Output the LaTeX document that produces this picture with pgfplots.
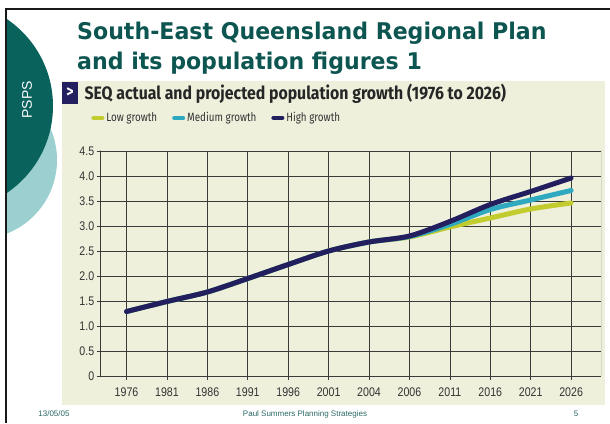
\documentclass[border=0pt]{standalone}
\usepackage{fontspec}
\setmainfont{Liberation Sans}
\newfontfamily\headfont{DejaVu Sans}
\newfontfamily\condfont[FakeStretch=0.82]{Fira Sans}
\newfontfamily\titlefont[FakeStretch=0.88]{Fira Sans}
\newfontfamily\narrowfont[FakeStretch=0.85]{Liberation Sans}
\usepackage{graphicx}
\usepackage{pgfplots}
\pgfplotsset{compat=1.18}

\definecolor{darkteal}{HTML}{0A625D}
\definecolor{lightteal}{HTML}{9CCFCF}
\definecolor{titlec}{HTML}{0D5550}
\definecolor{chartbg}{HTML}{EEF0DC}
\definecolor{navy}{HTML}{241F5E}
\definecolor{lowc}{HTML}{C3CC2E}
\definecolor{medc}{HTML}{2FA9BF}
\definecolor{highc}{HTML}{231E5E}
\definecolor{gridc}{HTML}{3A3A3A}
\definecolor{labelc}{HTML}{333333}
\definecolor{footc}{HTML}{2A6A66}

\begin{document}
\begin{tikzpicture}
\useasboundingbox (0,0) rectangle (610pt,423pt);
\fill[white] (0,0) rectangle (610pt,423pt);

% slide decoration
\begin{scope}
  \clip (6pt,0) rectangle (610pt,414pt);
  \fill[lightteal] (-22pt,263pt) circle (79pt);
  \fill[darkteal] (-52pt,317pt) circle (105pt);
\end{scope}
\draw[black!90, line width=2pt] (6pt,0) -- (6pt,414pt) -- (610pt,414pt);
\node[rotate=90, text=white, font=\fontsize{14}{14}\selectfont] at (27pt,323pt) {PSPS};

\node[anchor=base west, inner sep=0pt, text=titlec, font=\headfont\bfseries\fontsize{23}{26}\selectfont]
  at (77pt,383.7pt) {\scalebox{0.96}[1]{South-East Queensland Regional Plan}};
\node[anchor=base west, inner sep=0pt, text=titlec, font=\headfont\bfseries\fontsize{23}{26}\selectfont]
  at (77pt,353.7pt) {\scalebox{0.96}[1]{and its population figures 1}};

% chart panel
\fill[chartbg] (62pt,18pt) rectangle (605pt,342pt);
\fill[navy] (62pt,319pt) rectangle (78pt,341pt);
\node[text=white, font=\condfont\bfseries\fontsize{17}{17}\selectfont] at (70pt,330pt) {\textgreater};
\node[anchor=base west, text=black!85, font=\titlefont\bfseries\fontsize{18}{20}\selectfont]
  at (81pt,323pt) {SEQ actual and projected population growth (1976 to 2026)};

% footer
\node[text=footc, font=\fontsize{8}{10}\selectfont] at (54pt,9pt) {13/05/05};
\node[text=footc, font=\fontsize{8}{10}\selectfont] at (305pt,9pt) {Paul Summers Planning Strategies};
\node[text=footc, font=\fontsize{8}{10}\selectfont] at (576pt,9pt) {5};

\begin{axis}[
  at={(100.7pt,47pt)}, anchor=south west,
  scale only axis, width=500.3pt, height=225pt,
  xmin=-0.64, xmax=11.74, ymin=0, ymax=4.5,
  axis x line*=bottom, axis y line*=left,
  axis line style={draw=gridc, line width=0.8pt, -},
  xtick={0,...,11},
  xticklabels={1976,1981,1986,1991,1996,2001,2004,2006,2011,2016,2021,2026},
  ytick={0,0.5,1,1.5,2,2.5,3,3.5,4,4.5},
  yticklabels={0,0.5,1.0,1.5,2.0,2.5,3.0,3.5,4.0,4.5},
  grid=major, grid style={gridc, line width=0.7pt},
  tick align=outside, major tick length=4pt,
  tick style={gridc, line width=0.7pt},
  ticklabel style={font=\narrowfont\fontsize{12.5}{14}\selectfont, text=labelc},
  xticklabel style={yshift=-4pt},
  yticklabel style={xshift=1pt},
  legend columns=3,
  legend style={at={(-0.025,1.147)}, anchor=west, draw=none, fill=none,
    font=\condfont\fontsize{12}{13}\selectfont, text=labelc,
    /tikz/every even column/.append style={column sep=13pt}},
  legend image code/.code={\draw[#1, line width=4pt, line cap=round] (0pt,0pt) -- (9pt,0pt);},
  every axis plot/.append style={line width=5pt, smooth, line cap=round, line join=round},
]
\addplot[lowc] coordinates {
  (0,1.29) (1,1.49) (2,1.68) (3,1.95) (4,2.23) (5,2.50)
  (6,2.68) (7,2.78) (8,2.98) (9,3.16) (10,3.34) (11,3.46)
};
\addplot[medc] coordinates {
  (0,1.29) (1,1.49) (2,1.68) (3,1.95) (4,2.23) (5,2.50)
  (6,2.68) (7,2.79) (8,3.03) (9,3.33) (10,3.52) (11,3.71)
};
\addplot[highc] coordinates {
  (0,1.29) (1,1.49) (2,1.68) (3,1.95) (4,2.23) (5,2.50)
  (6,2.68) (7,2.80) (8,3.09) (9,3.43) (10,3.69) (11,3.96)
};
\legend{Low growth, Medium growth, High growth}
\draw[gridc, line width=0.8pt] (rel axis cs:0,1) -- ++(0pt,17pt);
\draw[gridc, line width=0.8pt] (rel axis cs:1,0) -- ++(0pt,233pt);
\node[anchor=base west, text=labelc, font=\condfont\fontsize{13}{14}\selectfont]
  at (rel axis cs:0,1) [xshift=2pt, yshift=5pt] {People (million)};
\end{axis}
\end{tikzpicture}
\end{document}
